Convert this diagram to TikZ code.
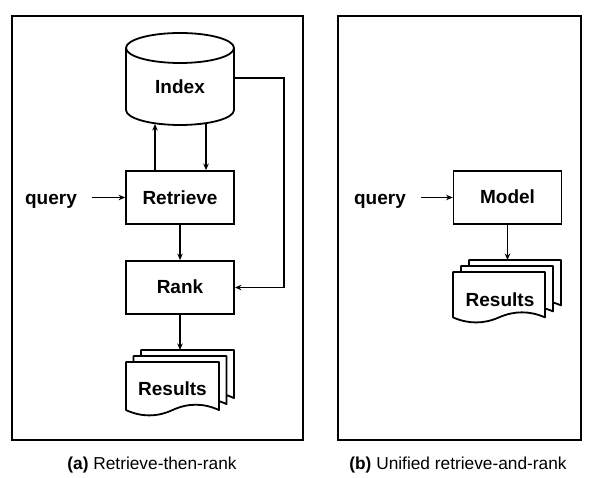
\documentclass[tikz,border=0pt]{standalone}
\usepackage{fontspec}
\setmainfont{Liberation Sans}
\usetikzlibrary{arrows.meta,calc}
\newcommand{\mydoc}[4]{%
  \draw[docshape] (#1,#2) -- ({#1+#3},#2) -- ({#1+#3},{#2+#4*0.89})
    .. controls ({#1+5*#3/6},{#2+#4*0.89-0.132*#4}) and ({#1+2*#3/3},{#2+#4*0.89-0.132*#4}) .. ({#1+#3/2},{#2+#4*0.89})
    .. controls ({#1+#3/3},{#2+#4*0.89+0.132*#4}) and ({#1+#3/6},{#2+#4*0.89+0.132*#4}) .. (#1,{#2+#4*0.89}) -- cycle;}
\tikzset{
  panelframe/.style={draw, line width=1.8pt},
  boxnode/.style={draw, line width=1.8pt, fill=white, minimum width=108pt, minimum height=53pt, inner sep=0pt},
  lbl/.style={font=\fontsize{19}{22}\selectfont\bfseries, inner sep=0pt, anchor=base},
  captext/.style={font=\fontsize{17.3}{20}\selectfont, inner sep=0pt, anchor=base},
  docshape/.style={draw, line width=1.8pt, fill=white, line join=round},
  arr/.style={line width=1.6pt, -{Stealth[length=6.5pt,width=5.5pt]}},
}
\begin{document}
\begin{tikzpicture}[x=1pt,y=-1pt]
\useasboundingbox (0,0) rectangle (594,478);
% frames
\draw[panelframe] (12,16) rectangle (303,440);
\draw[panelframe] (338,16) rectangle (581,440);
% captions
\node[captext] (capa) at (152,469) {\textbf{(a)} Retrieve-then-rank};
\node[captext] (capb) at (458,469) {\textbf{(b)} Unified retrieve-and-rank};
% ---- panel a ----
% cylinder
\draw[line width=1.8pt, fill=white] (126,48) -- (126,110) arc[start angle=180, end angle=360, x radius=54, y radius=-15] -- (234,48) arc[start angle=0, end angle=180, x radius=54, y radius=-15] -- cycle;
\draw[line width=1.8pt] (126,48) arc[start angle=180, end angle=360, x radius=54, y radius=-15];
\node[lbl] (idx) at (180,93.5) {Index};
\coordinate (idxr) at (234,78);
\coordinate (idxbl) at (155,124);
\coordinate (idxbr) at (206,123);
\node[boxnode] (ret) at (180,197.5) {};
\node[lbl] (rett) at (180,204.5) {Retrieve};
\node[boxnode] (rank) at (180,287.5) {};
\node[lbl] (rankt) at (180,294) {Rank};
\node[lbl] (qa) at (51,204.5) {query};
% documents a
\mydoc{141}{350}{93}{54}
\mydoc{133.5}{356}{93}{54}
\mydoc{126}{362}{93}{54}
\coordinate (resatop) at (141,350);
\node[lbl] (resa) at (172.5,395) {Results};
% connectors a
\draw[arr] ([xshift=15pt]qa.east |- ret.west) -- (ret.west);
\draw[arr] (ret.north -| idxbl) -- (idxbl);
\draw[arr] (idxbr) -- (ret.north -| idxbr);
\draw[arr] (ret.south) -- (rank.north);
\draw[arr] (idxr) -- (284,78) -- (284,287.5) -- (rank.east);
\draw[arr] (rank.south) -- (rank.south |- resatop);
% ---- panel b ----
\node[boxnode] (model) at (507.5,197.5) {};
\node[lbl] (modelt) at (507.5,204) {Model};
\node[lbl] (qb) at (380,204.5) {query};
\mydoc{469}{260}{92}{51}
\mydoc{461}{266}{92}{51}
\mydoc{453}{272}{92}{51}
\coordinate (resbtop) at (469,260);
\node[lbl] (resb) at (500,306.5) {Results};
\draw[arr] ([xshift=15pt]qb.east |- model.west) -- (model.west);
\draw[arr] (model.south) -- (model.south |- resbtop);
\end{tikzpicture}
\end{document}
